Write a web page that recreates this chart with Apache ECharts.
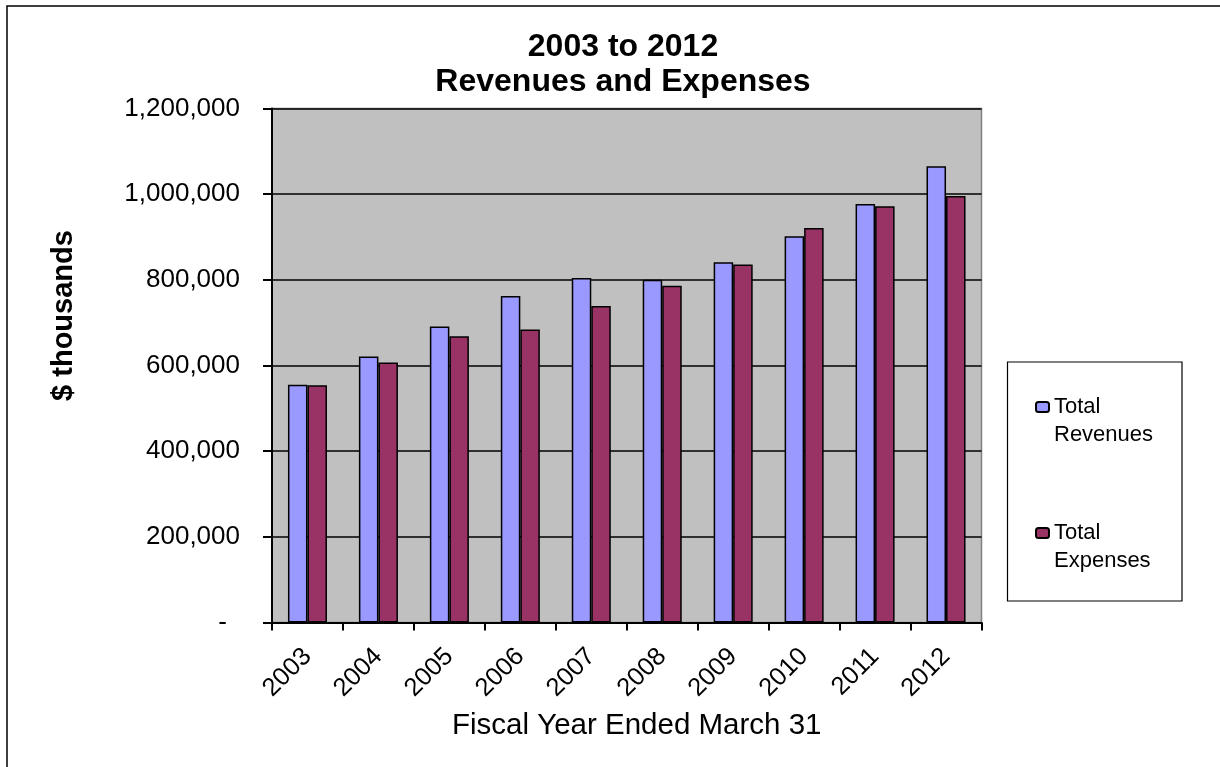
<!DOCTYPE html>
<html>
<head>
<meta charset="utf-8">
<script src="https://cdn.jsdelivr.net/npm/echarts@6/dist/echarts.min.js"></script>
<style>
  html, body { margin: 0; padding: 0; background: #fff; }
  #chart { width: 1220px; height: 767px; }
</style>
</head>
<body>
<div id="chart"></div>
<script>
// Fiscal years and totals ($ thousands)
const years = ['2003', '2004', '2005', '2006', '2007', '2008', '2009', '2010', '2011', '2012'];
const totalRevenues = [555000, 621000, 691000, 762000, 804000, 800000, 841000, 902000, 977000, 1065000];
const totalExpenses = [554000, 607000, 668000, 684000, 739000, 786000, 836000, 921000, 972000, 996000];
const seriesNames = ['Total Revenues', 'Total Expenses'];
const titleLines = ['2003 to 2012', 'Revenues and Expenses'];

const FONT = '"Liberation Sans", Arial, sans-serif';

function fmtThousands(v) {
  if (v === 0) return '-\u2002';
  return v.toString().replace(/\B(?=(\d{3})+(?!\d))/g, ',');
}

const chart = echarts.init(document.getElementById('chart'), null, { renderer: 'canvas' });

chart.setOption({
  backgroundColor: '#ffffff',
  animation: false,
  title: {
    text: titleLines.join('\n'),
    left: 618,
    top: 25,
    textAlign: 'center',
    textStyle: {
      fontFamily: FONT,
      fontSize: 32,
      fontWeight: 'bold',
      color: '#000',
      lineHeight: 35
    }
  },
  legend: {
    orient: 'vertical',
    left: 1035,
    top: 365,
    padding: 0,
    itemGap: 42,
    itemWidth: 13,
    itemHeight: 10,
    formatter: function (name) {
      const parts = name.split(' ');
      return ' \n' + parts[0] + '\n' + parts.slice(1).join(' ');
    },
    textStyle: {
      fontFamily: FONT,
      fontSize: 22,
      color: '#000',
      lineHeight: 28
    },
    data: seriesNames
  },
  graphic: [
    {
      // outer chart frame
      type: 'rect',
      shape: { x: 7, y: 6, width: 1400, height: 1000 },
      style: { fill: 'none', stroke: '#000', lineWidth: 1.5 },
      silent: true,
      z: 100
    },
    {
      // legend frame
      type: 'rect',
      shape: { x: 1007.5, y: 362, width: 174.5, height: 239 },
      style: { fill: 'none', stroke: '#000', lineWidth: 1.2 },
      silent: true,
      z: 100
    }
  ],
  grid: {
    left: 272,
    top: 108.5,
    right: 238.5,
    bottom: 144.5,
    show: true,
    backgroundColor: '#C0C0C0',
    borderColor: '#808080',
    borderWidth: 1.5,
    containLabel: false,
    outerBoundsMode: 'none'
  },
  xAxis: {
    type: 'category',
    data: years,
    name: 'Fiscal Year Ended March 31',
    nameLocation: 'middle',
    nameGap: 88,
    nameTextStyle: { fontFamily: FONT, fontSize: 29.5, color: '#000', padding: [0, 0, 0, 20] },
    axisLine: { show: true, lineStyle: { color: '#000', width: 2 } },
    axisTick: { show: true, length: 8, lineStyle: { color: '#000', width: 2 } },
    axisLabel: {
      rotate: 45,
      margin: 30,
      fontFamily: FONT,
      fontSize: 25.5,
      color: '#000',
      interval: 0
    },
    splitLine: { show: false }
  },
  yAxis: {
    type: 'value',
    min: 0,
    max: 1200000,
    interval: 200000,
    name: '$ thousands',
    nameLocation: 'middle',
    nameGap: 194,
    nameRotate: 90,
    nameTextStyle: {
      fontFamily: FONT, fontSize: 29, fontWeight: 'bold', color: '#000',
      padding: [0, 0, 0, 100]
    },
    axisLine: { show: true, lineStyle: { color: '#000', width: 2 } },
    axisTick: { show: true, inside: false, length: 9, lineStyle: { color: '#000', width: 2 } },
    axisLabel: {
      margin: 32,
      fontFamily: FONT,
      fontSize: 26,
      color: '#000',
      formatter: fmtThousands
    },
    splitLine: { show: true, lineStyle: { color: '#000', width: 1.5 } }
  },
  series: [
    {
      name: seriesNames[0],
      type: 'bar',
      data: totalRevenues,
      barGap: '0%',
      barCategoryGap: '45%',
      itemStyle: { color: '#9999FF', borderColor: '#000', borderWidth: 1.5 }
    },
    {
      name: seriesNames[1],
      type: 'bar',
      data: totalExpenses,
      barGap: '0%',
      barCategoryGap: '45%',
      itemStyle: { color: '#993366', borderColor: '#000', borderWidth: 1.5 }
    }
  ]
});
</script>
</body>
</html>
